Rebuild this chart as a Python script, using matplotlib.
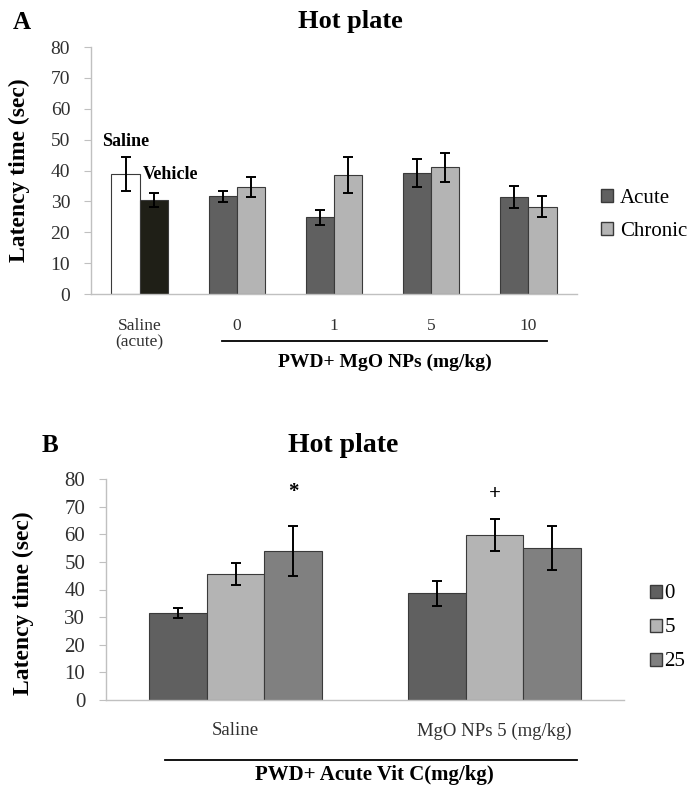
import matplotlib
matplotlib.use("Agg")
import matplotlib.pyplot as plt
from matplotlib.patches import Patch
from matplotlib.lines import Line2D
import numpy as np

plt.rcParams['font.family'] = ['Liberation Serif', 'DejaVu Serif']

# ---- Panel A data ----
a_groups = ["Saline\n(acute)", "0", "1", "5", "10"]
a_saline = 38.8
a_saline_err = 5.5
a_vehicle = 30.4
a_vehicle_err = 2.2
a_acute = [31.7, 24.9, 39.2, 31.4]
a_acute_err = [1.8, 2.4, 4.5, 3.5]
a_chronic = [34.6, 38.5, 41.1, 28.2]
a_chronic_err = [3.2, 5.8, 4.7, 3.4]

# ---- Panel B data ----
b_groups = ["Saline", "MgO NPs 5 (mg/kg)"]
b_doses = ["0", "5", "25"]
b_vals = [[31.5, 38.7], [45.6, 59.8], [54.0, 55.1]]
b_errs = [[1.8, 4.5], [4.0, 5.8], [9.0, 8.0]]
# significance marks: symbol, group index, dose index, height
b_marks = [("*", 0, 2, 75.3), ("+", 1, 1, 74.6)]

c_dark = "#606060"
c_light = "#b4b4b4"
c_mid = "#808080"
c_black = "#1f1f17"
c_edge = "#3a3a3a"
c_spine = "#c0c0c0"
c_tick = "#303030"

fig = plt.figure(figsize=(6.94, 7.86), dpi=100)


def fx(px):
    return px / 694


def fy(py):
    return 1 - py / 786


def style_axis(ax, tick_size, pad_x):
    for s in ["top", "right"]:
        ax.spines[s].set_visible(False)
    for s in ["left", "bottom"]:
        ax.spines[s].set_color(c_spine)
        ax.spines[s].set_linewidth(1.0)
    ax.set_ylim(0, 80)
    ax.set_yticks(range(0, 81, 10))
    ax.tick_params(axis="y", length=5, color=c_spine, labelsize=tick_size,
                   labelcolor=c_tick, pad=10)
    ax.tick_params(axis="x", length=0, labelsize=tick_size - 1.5,
                   labelcolor=c_tick, pad=pad_x)


err_kw = dict(ecolor="black", elinewidth=1.4, capsize=3.5, capthick=1.4)

# ---------------- Panel A ----------------
axA = fig.add_axes([fx(91), fy(294), 486 / 694, 247 / 786])
w = 0.29
xa = np.arange(len(a_groups))
axA.bar(xa[0] - w / 2, a_saline, w, yerr=a_saline_err, color="white",
        edgecolor=c_edge, linewidth=0.8, error_kw=err_kw)
axA.bar(xa[0] + w / 2, a_vehicle, w, yerr=a_vehicle_err, color=c_black,
        edgecolor=c_edge, linewidth=0.8, error_kw=err_kw)
axA.bar(xa[1:] - w / 2, a_acute, w, yerr=a_acute_err, color=c_dark,
        edgecolor=c_edge, linewidth=0.8, error_kw=err_kw)
axA.bar(xa[1:] + w / 2, a_chronic, w, yerr=a_chronic_err, color=c_light,
        edgecolor=c_edge, linewidth=0.8, error_kw=err_kw)
axA.set_xlim(-0.5, len(a_groups) - 0.5)
axA.set_xticks(xa)
axA.set_xticklabels(a_groups, linespacing=1.1)
style_axis(axA, 14, 17)
axA.set_ylabel("Latency time (sec)", fontsize=17, fontweight="bold")
axA.yaxis.set_label_coords(-0.125, 0.5)

axA.text(xa[0] - w / 2, a_saline + a_saline_err + 2.5, "Saline", ha="center",
         va="bottom", fontsize=13, fontweight="bold")
axA.text(xa[0] + w / 2 - 0.11, a_saline, "Vehicle", ha="left",
         va="center", fontsize=13, fontweight="bold")

legA = [Patch(facecolor=c_dark, edgecolor=c_edge, label="Acute"),
        Patch(facecolor=c_light, edgecolor=c_edge, label="Chronic")]
fig.legend(handles=legA, loc="center left", bbox_to_anchor=(fx(601), fy(215)),
           frameon=False, fontsize=15, handlelength=0.58, handleheight=0.58,
           handletextpad=0.33, labelspacing=0.65, borderpad=0, borderaxespad=0)

fig.add_artist(Line2D([fx(222), fx(547)], [fy(341), fy(341)],
                      color="black", linewidth=1.3))
fig.text(fx(385), fy(362), "PWD+ MgO NPs (mg/kg)", ha="center",
         va="center", fontsize=14, fontweight="bold")
fig.text(fx(350), fy(28), "Hot plate", ha="center", va="baseline",
         fontsize=19, fontweight="bold")
fig.text(fx(13), fy(29), "A", ha="left", va="baseline",
         fontsize=18, fontweight="bold")

# ---------------- Panel B ----------------
axB = fig.add_axes([fx(106), fy(700), 518 / 694, 221 / 786])
wb = 0.222
xb = np.arange(len(b_groups))
colors_b = [c_dark, c_light, c_mid]
for i, dose in enumerate(b_doses):
    axB.bar(xb + (i - 1) * wb, b_vals[i], wb, yerr=b_errs[i], color=colors_b[i],
            edgecolor=c_edge, linewidth=0.8, error_kw=err_kw, label=dose)
for sym, g, d, h in b_marks:
    axB.text(xb[g] + (d - 1) * wb, h, sym,
             ha="center", va="center", fontsize=15, fontweight="bold")
axB.set_xlim(-0.5, len(b_groups) - 0.5)
axB.set_xticks(xb)
axB.set_xticklabels(b_groups)
style_axis(axB, 15, 16)
axB.set_ylabel("Latency time (sec)", fontsize=17, fontweight="bold")
axB.yaxis.set_label_coords(-0.139, 0.44)

legB = [Patch(facecolor=c, edgecolor=c_edge, label=d) for c, d in zip(colors_b, b_doses)]
fig.legend(handles=legB, loc="center left", bbox_to_anchor=(fx(650), fy(628)),
           frameon=False, fontsize=15, handlelength=0.58, handleheight=0.58,
           handletextpad=0.12, labelspacing=0.72, borderpad=0, borderaxespad=0)

fig.add_artist(Line2D([fx(165), fx(577)], [fy(760), fy(760)],
                      color="black", linewidth=1.3))
fig.text(fx(374), fy(780), "PWD+ Acute Vit C(mg/kg)", ha="center",
         va="baseline", fontsize=15, fontweight="bold")
fig.text(fx(343), fy(452), "Hot plate", ha="center", va="baseline",
         fontsize=20, fontweight="bold")
fig.text(fx(42), fy(452), "B", ha="left", va="baseline",
         fontsize=18, fontweight="bold")

fig.savefig("out.png", dpi=100, facecolor="white")
